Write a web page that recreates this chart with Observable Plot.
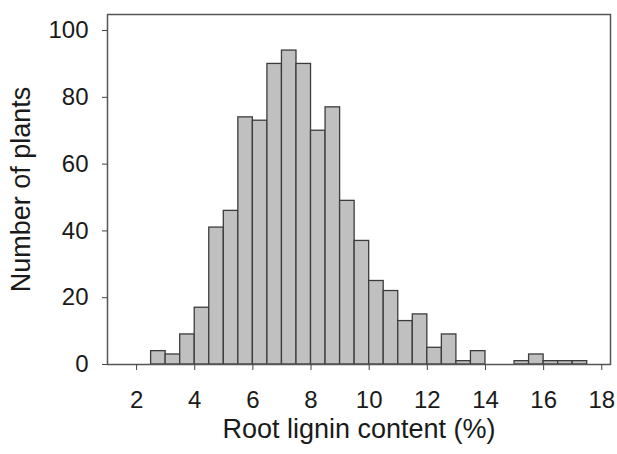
<!DOCTYPE html>
<html>
<head>
<meta charset="utf-8">
<script src="https://cdn.jsdelivr.net/npm/d3@7"></script>
<script src="https://cdn.jsdelivr.net/npm/@observablehq/plot@0.6"></script>
<style>
  html, body { margin: 0; padding: 0; background: #fff; }
</style>
</head>
<body>
<div id="chart"></div>
<script>
// Histogram bins (lower edge, %) and counts (number of plants)
const binStarts = [2.5, 3, 3.5, 4, 4.5, 5, 5.5, 6, 6.5, 7, 7.5, 8, 8.5, 9, 9.5, 10, 10.5, 11, 11.5, 12, 12.5, 13, 13.5, 14, 14.5, 15, 15.5, 16, 16.5, 17];
const counts    = [4,   3, 9,   17, 41, 46, 74, 73, 90, 94, 90, 70, 77, 49, 37, 25, 22,   13, 15,   5,  9,    1,  4,    0,  0,    1,  3,    1,  1,    1];
const binWidth = 0.5;
const xTicks = [2, 4, 6, 8, 10, 12, 14, 16, 18];
const yTicks = [0, 20, 40, 60, 80, 100];

const bins = binStarts
  .map((s, i) => ({x1: s, x2: s + binWidth, count: counts[i]}))
  .filter(d => d.count > 0);

const chart = Plot.plot({
  width: 617,
  height: 454,
  marginLeft: 107,
  marginRight: 7,
  marginTop: 14,
  marginBottom: 90,
  style: {fontFamily: "'Liberation Sans', Arial, sans-serif", fontSize: "24px", color: "#1a1a1a", background: "#fff"},
  x: {domain: [1, 18.3]},
  y: {domain: [0, 104.8]},
  marks: [
    Plot.rectY(bins, {x1: "x1", x2: "x2", y: "count", fill: "#c0c0c0", stroke: "#3c3c3c", strokeWidth: 1.3}),
    Plot.frame({stroke: "#555", strokeWidth: 1.5}),
    Plot.axisX({ticks: xTicks, tickSize: 6, tickPadding: 20, stroke: "#444", fontSize: 24, label: null}),
    Plot.axisX({ticks: [], tickSize: 0, fontSize: 27,
      label: "Root lignin content (%)", labelAnchor: "center", labelArrow: "none", labelOffset: 73}),
    Plot.axisY({ticks: yTicks, tickSize: 5, tickPadding: 14, stroke: "#444", fontSize: 24, label: null}),
    Plot.axisY({ticks: [], tickSize: 0, fontSize: 27,
      label: "Number of plants", labelAnchor: "center", labelArrow: "none", labelOffset: 97})
  ]
});
document.getElementById("chart").appendChild(chart);
</script>
</body>
</html>
